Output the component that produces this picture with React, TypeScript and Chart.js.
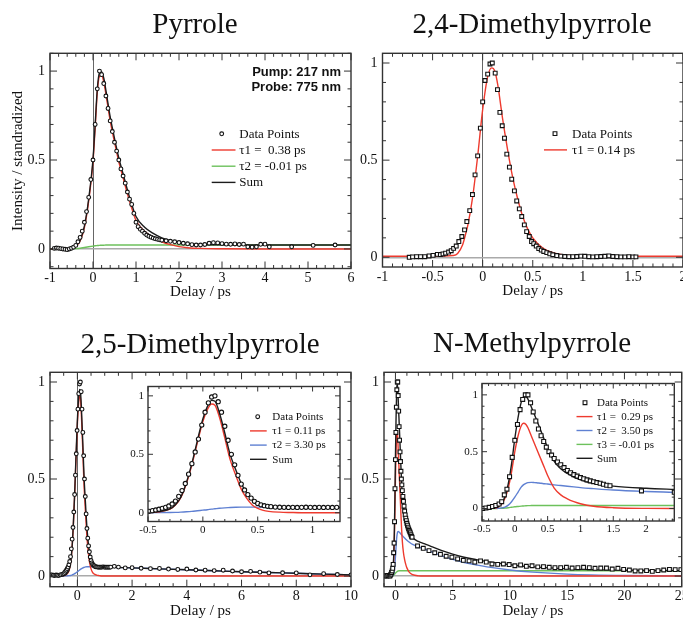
import React, { useEffect, useRef } from "react";
import { Chart, registerables } from "chart.js";

Chart.register(...registerables);

const SERIF = "'Liberation Serif', 'Times New Roman', serif";
const SANS = "'Liberation Sans', Arial, sans-serif";
const RED = "#ee3a2e";
const GREEN = "#6dc15c";
const BLUE = "#5f80d2";
const SUM = "#1c1c1c";
const INK = "#111111";

// ---------------- Pyrrole ----------------
const pyrX = [-0.9,-0.85,-0.8,-0.75,-0.7,-0.65,-0.6,-0.55,-0.5,-0.45,-0.4,-0.35,-0.3,-0.25,-0.2,-0.15,-0.1,-0.05,0,0.05,0.1,0.15,0.2,0.25,0.3,0.35,0.4,0.45,0.5,0.55,0.6,0.65,0.7,0.75,0.8,0.85,0.9,0.95,1,1.05,1.1,1.15,1.2,1.25,1.3,1.35,1.4,1.45,1.5,1.55,1.6,1.7,1.8,1.9,2,2.1,2.2,2.3,2.4,2.5,2.6,2.7,2.8,2.9,3,3.1,3.2,3.3,3.4,3.5,3.6,3.7,3.8,3.9,4,4.1,4.62,5.12,5.63];
const pyrY = [0.003,0.005,0.004,0.002,0,-0.002,-0.004,0,0.004,0.01,0.02,0.04,0.065,0.1,0.15,0.21,0.29,0.39,0.5,0.7,0.9,1.0,0.98,0.93,0.86,0.79,0.72,0.66,0.6,0.55,0.5,0.45,0.41,0.37,0.32,0.28,0.25,0.2,0.15,0.125,0.11,0.1,0.088,0.078,0.071,0.066,0.061,0.057,0.054,0.051,0.049,0.046,0.043,0.04,0.036,0.032,0.029,0.024,0.022,0.022,0.025,0.032,0.035,0.034,0.03,0.027,0.026,0.028,0.025,0.027,0.012,0.01,0.012,0.026,0.027,0.012,0.012,0.02,0.022];
const pyrFitX = [-1,-0.6,-0.5,-0.4,-0.3,-0.2,-0.1,0,0.05,0.1,0.15,0.2,0.25,0.3,0.4,0.5,0.6,0.7,0.8,0.9,1,1.2,1.4,1.6,1.8,2,2.2,2.5,3,4,5,6];
const pyrTau1 = [0,0.001,0.004,0.015,0.045,0.12,0.27,0.49,0.68,0.88,0.97,0.975,0.94,0.87,0.72,0.6,0.49,0.4,0.31,0.23,0.16,0.1,0.065,0.04,0.024,0.013,0.007,0.003,0.001,0,0,0];
const pyrTau2 = [0,0,0.001,0.002,0.004,0.008,0.012,0.016,0.018,0.019,0.02,0.021,0.021,0.022,0.022,0.022,0.022,0.022,0.022,0.022,0.022,0.022,0.022,0.022,0.022,0.022,0.022,0.022,0.022,0.022,0.022,0.022];
const pyrSum = [0,0.001,0.005,0.017,0.049,0.128,0.282,0.506,0.698,0.899,0.99,0.996,0.961,0.892,0.742,0.622,0.512,0.422,0.332,0.252,0.182,0.122,0.087,0.062,0.046,0.035,0.029,0.025,0.023,0.022,0.022,0.022];
const pyrXTicks = [-1,0,1,2,3,4,5,6];
const pyrYTicks = [0,0.5,1];
const pyrLegend = ["Data Points","\u03c41 =  0.38 ps","\u03c42 = -0.01 ps","Sum"];
const pyrNotes = ["Pump: 217 nm","Probe: 775 nm"];

// ---------------- 2,4-Dimethylpyrrole ----------------
const dm24X = [-0.733,-0.7,-0.66,-0.62,-0.578,-0.535,-0.495,-0.452,-0.422,-0.396,-0.37,-0.34,-0.314,-0.29,-0.264,-0.238,-0.208,-0.181,-0.158,-0.129,-0.102,-0.076,-0.05,-0.023,0,0.023,0.05,0.073,0.096,0.125,0.148,0.172,0.195,0.218,0.241,0.267,0.29,0.317,0.34,0.366,0.39,0.416,0.439,0.465,0.488,0.51,0.535,0.56,0.585,0.61,0.64,0.67,0.7,0.74,0.78,0.82,0.86,0.9,0.94,0.98,1.02,1.06,1.1,1.14,1.18,1.22,1.26,1.3,1.34,1.38,1.42,1.46,1.5,1.53];
const dm24Y = [0,0.002,0.003,0.003,0.003,0.007,0.01,0.015,0.014,0.017,0.021,0.027,0.034,0.046,0.058,0.081,0.107,0.141,0.184,0.24,0.323,0.424,0.522,0.665,0.8,0.91,0.943,0.995,1.0,0.948,0.863,0.746,0.677,0.613,0.531,0.464,0.402,0.342,0.29,0.249,0.21,0.167,0.132,0.107,0.081,0.07,0.058,0.045,0.037,0.03,0.024,0.018,0.013,0.009,0.006,0.004,0.003,0.003,0.004,0.006,0.005,0.003,0.002,0.003,0.004,0.005,0.007,0.004,0.003,0.002,0.002,0.003,0.002,0.002];
const dm24FitX = [-1,-0.5,-0.4,-0.3,-0.25,-0.2,-0.17,-0.15,-0.1,-0.05,0,0.05,0.09,0.12,0.15,0.2,0.25,0.3,0.35,0.4,0.45,0.5,0.6,0.7,0.8,0.9,1,1.5,2];
const dm24Tau1 = [0.005,0.005,0.006,0.009,0.02,0.065,0.12,0.16,0.31,0.52,0.76,0.93,0.975,0.96,0.89,0.71,0.55,0.41,0.3,0.21,0.145,0.1,0.048,0.024,0.013,0.008,0.006,0.005,0.005];
const dm24XTicks = [-1,-0.5,0,0.5,1,1.5,2];
const dm24YTicks = [0,0.5,1];
const dm24Legend = ["Data Points","\u03c41 = 0.14 ps"];

// ---------------- 2,5-Dimethylpyrrole ----------------
const dm25X = [-0.98,-0.93,-0.88,-0.83,-0.78,-0.73,-0.68,-0.63,-0.58,-0.53,-0.49,-0.46,-0.43,-0.4,-0.37,-0.34,-0.31,-0.28,-0.25,-0.22,-0.19,-0.16,-0.13,-0.1,-0.07,-0.04,-0.01,0.02,0.05,0.08,0.11,0.14,0.17,0.2,0.23,0.26,0.29,0.32,0.35,0.38,0.41,0.44,0.47,0.5,0.53,0.56,0.59,0.62,0.66,0.7,0.74,0.78,0.82,0.86,0.9,0.94,0.98,1.02,1.06,1.1,1.14,1.18,1.22,1.35,1.5,1.75,2,2.33,2.67,3,3.33,3.67,4,4.33,4.67,5,5.33,5.67,6,6.33,6.67,7,7.5,8,8.5,9,9.5,10];
const dm25Y = [0.005,0.006,0.004,0.003,0.005,0.004,0.003,0.006,0.007,0.01,0.012,0.018,0.024,0.03,0.038,0.046,0.058,0.075,0.1,0.14,0.19,0.25,0.33,0.42,0.52,0.63,0.75,0.86,0.94,0.99,1.0,0.95,0.86,0.74,0.62,0.5,0.41,0.32,0.245,0.195,0.155,0.125,0.098,0.08,0.068,0.06,0.055,0.052,0.048,0.047,0.046,0.045,0.046,0.045,0.046,0.047,0.046,0.045,0.046,0.045,0.046,0.045,0.046,0.05,0.046,0.042,0.043,0.04,0.038,0.039,0.036,0.034,0.036,0.031,0.03,0.028,0.03,0.026,0.022,0.024,0.02,0.016,0.017,0.016,0.006,0.012,0.008,0.006];
const dm25FitX = [-1,-0.5,-0.4,-0.3,-0.25,-0.2,-0.15,-0.1,-0.05,0,0.04,0.08,0.11,0.15,0.2,0.23,0.25,0.3,0.35,0.4,0.45,0.5,0.55,0.6,0.7,0.8,0.9,1,1.25,1.5,2,3,4,5,6,7,8,9,10];
const dm25Tau1 = [0,0.002,0.008,0.03,0.065,0.13,0.25,0.41,0.6,0.78,0.88,0.93,0.92,0.82,0.64,0.52,0.45,0.32,0.202,0.122,0.067,0.037,0.02,0.012,0.005,0.002,0,0,0,0,0,0,0,0,0,0,0,0,0];
const dm25Tau2 = [0,0,0.001,0.002,0.003,0.005,0.008,0.012,0.017,0.022,0.026,0.031,0.034,0.038,0.042,0.044,0.045,0.047,0.048,0.048,0.048,0.048,0.048,0.048,0.047,0.047,0.046,0.046,0.045,0.044,0.042,0.037,0.032,0.027,0.022,0.018,0.014,0.01,0.006];
const dm25Sum = [0,0.002,0.009,0.032,0.068,0.135,0.258,0.422,0.617,0.802,0.906,0.961,0.954,0.858,0.682,0.564,0.495,0.367,0.25,0.17,0.115,0.085,0.068,0.06,0.052,0.049,0.046,0.046,0.045,0.044,0.042,0.037,0.032,0.027,0.022,0.018,0.014,0.01,0.006];
const dm25XTicks = [0,2,4,6,8,10];
const dm25InsetXTicks = [-0.5,0,0.5,1];
const dm25YTicks = [0,0.5,1];
const dm25Legend = ["Data Points","\u03c41 = 0.11 ps","\u03c42 = 3.30 ps","Sum"];

// ---------------- N-Methylpyrrole ----------------
const nmX = [-0.95,-0.85,-0.75,-0.65,-0.55,-0.49,-0.44,-0.39,-0.34,-0.29,-0.24,-0.2,-0.16,-0.12,-0.08,-0.04,0,0.04,0.08,0.12,0.16,0.2,0.24,0.28,0.32,0.36,0.4,0.44,0.48,0.52,0.56,0.6,0.65,0.7,0.75,0.8,0.85,0.9,0.95,1,1.05,1.1,1.15,1.2,1.25,1.3,1.35,1.4,1.45,1.93,2.43,2.93,3.43,3.93,4.43,4.93,5.43,5.93,6.43,6.93,7.43,7.93,8.43,8.93,9.43,9.93,10.43,10.93,11.43,11.93,12.43,12.93,13.43,13.93,14.43,14.93,15.43,15.93,16.43,16.93,17.43,17.93,18.43,18.93,19.43,19.93,20.43,20.93,21.43,21.93,22.43,22.93,23.43,23.93,24.43,24.93];
const nmY = [0,0.002,0,0.003,0.001,0,0.005,0.01,0.018,0.026,0.04,0.06,0.12,0.17,0.28,0.45,0.6,0.74,0.87,0.96,1.0,1.0,0.93,0.85,0.77,0.7,0.64,0.59,0.54,0.5,0.47,0.44,0.41,0.385,0.36,0.335,0.315,0.298,0.285,0.272,0.262,0.252,0.243,0.236,0.228,0.222,0.213,0.205,0.2,0.155,0.143,0.131,0.12,0.112,0.102,0.097,0.088,0.081,0.078,0.072,0.078,0.072,0.062,0.06,0.062,0.059,0.053,0.057,0.05,0.053,0.047,0.048,0.045,0.043,0.043,0.045,0.041,0.043,0.045,0.043,0.04,0.041,0.041,0.036,0.04,0.034,0.031,0.026,0.026,0.028,0.024,0.028,0.031,0.034,0.033,0.033];
const nmFitX = [-1,-0.3,-0.25,-0.2,-0.15,-0.1,-0.05,0,0.05,0.1,0.13,0.17,0.2,0.25,0.3,0.35,0.4,0.45,0.5,0.6,0.7,0.8,0.9,1,1.2,1.5,2,2.5,3,4,5,6,7,8,10,12,15,20,25];
const nmTau1 = [0,0.005,0.015,0.04,0.09,0.18,0.32,0.5,0.64,0.73,0.75,0.74,0.71,0.64,0.57,0.5,0.43,0.36,0.29,0.18,0.12,0.085,0.06,0.042,0.02,0.007,0.001,0,0,0,0,0,0,0,0,0,0,0,0];
const nmTau2 = [0,0.001,0.002,0.005,0.012,0.03,0.06,0.1,0.145,0.19,0.208,0.222,0.228,0.23,0.228,0.225,0.222,0.218,0.215,0.208,0.202,0.196,0.19,0.184,0.175,0.163,0.15,0.14,0.128,0.105,0.086,0.07,0.058,0.047,0.031,0.02,0.01,0.003,0.001];
const nmTau3 = [0,0,0.001,0.002,0.004,0.007,0.011,0.015,0.018,0.021,0.022,0.024,0.025,0.026,0.027,0.027,0.027,0.027,0.027,0.027,0.027,0.027,0.027,0.027,0.027,0.027,0.027,0.027,0.027,0.027,0.027,0.027,0.027,0.027,0.027,0.027,0.027,0.027,0.027];
const nmSum = [0,0.006,0.018,0.047,0.106,0.217,0.391,0.615,0.803,0.941,0.98,0.986,0.963,0.896,0.825,0.752,0.679,0.605,0.532,0.415,0.349,0.308,0.277,0.253,0.222,0.197,0.178,0.167,0.155,0.132,0.113,0.097,0.085,0.074,0.058,0.047,0.037,0.03,0.028];
const nmXTicks = [0,5,10,15,20,25];
const nmInsetXTicks = [-0.5,0,0.5,1,1.5,2];
const nmYTicks = [0,0.5,1];
const nmLegend = ["Data Points","\u03c41 =  0.29 ps","\u03c42 =  3.50 ps","\u03c43 = -0.01 ps","Sum"];

// ---------------- helpers ----------------
const pts = (xs: number[], ys: number[]) => xs.map((x, i) => ({ x, y: ys[i] }));

function pointSet(xs: number[], ys: number[], style: string, r: number) {
  return {
    data: pts(xs, ys), showLine: false, pointStyle: style, pointRadius: r,
    pointBorderWidth: 1.1, pointBorderColor: INK, pointBackgroundColor: "#ffffff",
    borderColor: INK, backgroundColor: "#ffffff", order: 0,
  };
}
function curveSet(xs: number[], ys: number[], color: string, order: number) {
  return {
    data: pts(xs, ys), borderColor: color, backgroundColor: color, borderWidth: 1.4,
    pointRadius: 0, cubicInterpolationMode: "monotone", fill: false, order,
  };
}

type Item = { kind: "circle" | "rect" | "line"; color: string; label: string };
type Cfg = {
  box: { x: number; y: number; w: number; h: number };
  plot: { l: number; t: number; r: number; b: number };
  xr: [number, number]; yr: [number, number];
  xTicks: number[]; yTicks: number[]; xMinor: number; yMinor: number;
  inset: boolean; zeroX: boolean; zeroY: boolean;
  yTitle?: string;
  title?: { text: string; x: number; y: number };
  notes?: string[];
  legend?: { items: Item[]; markX: number; l0: number; l1: number; textX: number; dy: number; gap: number; size: number };
  datasets: any[];
};

function framePlugin(c: Cfg) {
  return {
    id: "frame",
    afterDatasetsDraw(chart: any) {
      const { ctx, chartArea: ca } = chart;
      const xs = chart.scales.x, ys = chart.scales.y;
      const majLen = c.inset ? 5 : 7, minLen = c.inset ? 2.5 : 3.5;
      const marks = (min: number, max: number, step: number, majors: number[]) => {
        const out: [number, boolean][] = [];
        const n0 = Math.ceil(min / step - 1e-6), n1 = Math.floor(max / step + 1e-6);
        for (let n = n0; n <= n1; n++) {
          const v = n * step;
          out.push([v, majors.some((m) => Math.abs(m - v) < step * 1e-3)]);
        }
        return out;
      };
      ctx.save();
      ctx.strokeStyle = "#333";
      ctx.lineWidth = 1;
      ctx.beginPath();
      for (const [v, major] of marks(xs.min, xs.max, c.xMinor, c.xTicks)) {
        const p = xs.getPixelForValue(v), len = major ? majLen : minLen;
        ctx.moveTo(p, ca.bottom); ctx.lineTo(p, ca.bottom - len);
        ctx.moveTo(p, ca.top); ctx.lineTo(p, ca.top + len);
      }
      for (const [v, major] of marks(ys.min, ys.max, c.yMinor, c.yTicks)) {
        const p = ys.getPixelForValue(v), len = major ? majLen : minLen;
        ctx.moveTo(ca.left, p); ctx.lineTo(ca.left + len, p);
        ctx.moveTo(ca.right, p); ctx.lineTo(ca.right - len, p);
      }
      ctx.stroke();
      ctx.lineWidth = 1.4;
      ctx.strokeRect(ca.left, ca.top, ca.right - ca.left, ca.bottom - ca.top);
      ctx.restore();
    },
  };
}

function notesPlugin(c: Cfg) {
  return {
    id: "notes",
    beforeDraw(chart: any) {
      if (!c.inset) return;
      const { ctx, chartArea: ca } = chart;
      ctx.save();
      ctx.fillStyle = "#ffffff";
      ctx.fillRect(ca.left, ca.top, ca.right - ca.left, ca.bottom - ca.top);
      ctx.restore();
    },
    afterDraw(chart: any) {
      const { ctx, chartArea: ca } = chart;
      ctx.save();
      ctx.fillStyle = INK;
      if (c.title) {
        ctx.font = `29px ${SERIF}`;
        ctx.textAlign = "center";
        ctx.textBaseline = "alphabetic";
        ctx.fillText(c.title.text, c.title.x, c.title.y);
      }
      if (c.notes) {
        ctx.font = `bold 13px ${SANS}`;
        ctx.textAlign = "right";
        ctx.textBaseline = "alphabetic";
        c.notes.forEach((t, i) => ctx.fillText(t, ca.right - 10, ca.top + 23 + i * 14.5));
      }
      const L = c.legend;
      if (L) {
        ctx.font = `${L.size}px ${SERIF}`;
        ctx.textAlign = "left";
        ctx.textBaseline = "middle";
        L.items.forEach((it, i) => {
          const cy = ca.top + L.dy + i * L.gap;
          if (it.kind === "line") {
            ctx.strokeStyle = it.color;
            ctx.lineWidth = 1.4;
            ctx.beginPath();
            ctx.moveTo(ca.left + L.l0, cy);
            ctx.lineTo(ca.left + L.l1, cy);
            ctx.stroke();
          } else {
            ctx.strokeStyle = INK;
            ctx.fillStyle = "#fff";
            ctx.lineWidth = 1.1;
            ctx.beginPath();
            const mx = ca.left + L.markX;
            if (it.kind === "circle") ctx.arc(mx, cy, 1.9, 0, Math.PI * 2);
            else ctx.rect(mx - 1.9, cy - 1.9, 3.8, 3.8);
            ctx.fill();
            ctx.stroke();
          }
          ctx.fillStyle = INK;
          ctx.fillText(it.label, ca.left + L.textX, cy + 0.5);
        });
      }
      ctx.restore();
    },
  };
}

function buildConfig(c: Cfg) {
  const yW = c.plot.l - c.box.x;
  const xH = c.inset ? c.box.y + c.box.h - c.plot.b : 33;
  const tickSize = c.inset ? 11 : 14;
  const gridColor = (on: boolean, col: string) => (ctx: any) =>
    on && ctx.tick && Math.abs(ctx.tick.value) < 1e-9 ? col : "rgba(0,0,0,0)";
  return {
    type: "line",
    data: { datasets: c.datasets },
    options: {
      responsive: false, animation: false, devicePixelRatio: 1, events: [],
      layout: {
        padding: {
          left: 0,
          top: c.plot.t - c.box.y,
          right: c.box.x + c.box.w - c.plot.r,
          bottom: c.box.y + c.box.h - c.plot.b - xH,
        },
      },
      plugins: { legend: { display: false }, tooltip: { enabled: false }, title: { display: false } },
      scales: {
        x: {
          type: "linear", position: "bottom", min: c.xr[0], max: c.xr[1],
          afterBuildTicks: (s: any) => { s.ticks = c.xTicks.map((v) => ({ value: v })); },
          afterFit: (s: any) => { s.height = xH; },
          ticks: { autoSkip: false, maxRotation: 0, padding: c.inset ? 2 : 1.5, color: INK,
            font: { family: SERIF, size: tickSize }, callback: (v: any) => String(v) },
          grid: { drawTicks: false, lineWidth: 1, color: gridColor(c.zeroX, "#666") },
          border: { display: false },
          title: c.inset ? { display: false } : { display: true, text: "Delay / ps", color: INK,
            font: { family: SERIF, size: 15 }, padding: { top: 0, bottom: 0 } },
        },
        y: {
          type: "linear", position: "left", min: c.yr[0], max: c.yr[1],
          afterBuildTicks: (s: any) => { s.ticks = c.yTicks.map((v) => ({ value: v })); },
          afterFit: (s: any) => { s.width = yW; },
          ticks: { autoSkip: false, padding: c.inset ? 4 : 5, color: INK,
            font: { family: SERIF, size: tickSize }, callback: (v: any) => String(v) },
          grid: { drawTicks: false, lineWidth: 1.4, color: gridColor(c.zeroY, "#aaa") },
          border: { display: false },
          title: c.yTitle ? { display: true, text: c.yTitle, color: INK,
            font: { family: SERIF, size: 15 }, padding: { top: 9, bottom: 0 } } : { display: false },
        },
      },
    },
    plugins: [framePlugin(c), notesPlugin(c)],
  };
}

// ---------------- panel configs ----------------
const mainLegendGeom = { markX: 171.7, l0: 161.7, l1: 185.5, textX: 189.3, dy: 80.5, gap: 16.2, size: 13 };

const panels: Cfg[] = [
  {
    box: { x: 0, y: 0, w: 365, h: 312 }, plot: { l: 50, t: 53.3, r: 351, b: 268.5 },
    xr: [-1, 6], yr: [-0.11, 1.1], xTicks: pyrXTicks, yTicks: pyrYTicks, xMinor: 0.2, yMinor: 0.1,
    inset: false, zeroX: true, zeroY: true, yTitle: "Intensity / standradized",
    title: { text: "Pyrrole", x: 195, y: 33 }, notes: pyrNotes,
    legend: { ...mainLegendGeom, items: [
      { kind: "circle", color: INK, label: pyrLegend[0] },
      { kind: "line", color: RED, label: pyrLegend[1] },
      { kind: "line", color: GREEN, label: pyrLegend[2] },
      { kind: "line", color: SUM, label: pyrLegend[3] },
    ] },
    datasets: [
      pointSet(pyrX, pyrY, "circle", 1.9),
      curveSet(pyrFitX, pyrSum, SUM, 1),
      curveSet(pyrFitX, pyrTau1, RED, 2),
      curveSet(pyrFitX, pyrTau2, GREEN, 3),
    ],
  },
  {
    box: { x: 340, y: 0, w: 360, h: 312 }, plot: { l: 382.5, t: 53.3, r: 683, b: 267 },
    xr: [-1, 2], yr: [-0.05, 1.05], xTicks: dm24XTicks, yTicks: dm24YTicks, xMinor: 0.1, yMinor: 0.1,
    inset: false, zeroX: true, zeroY: true,
    title: { text: "2,4-Dimethylpyrrole", x: 192, y: 33 },
    legend: { markX: 172.5, l0: 161.5, l1: 184.5, textX: 189.5, dy: 80.3, gap: 16.3, size: 13, items: [
      { kind: "rect", color: INK, label: dm24Legend[0] },
      { kind: "line", color: RED, label: dm24Legend[1] },
    ] },
    datasets: [
      pointSet(dm24X, dm24Y, "rect", 2.7),
      curveSet(dm24FitX, dm24Tau1, RED, 1),
    ],
  },
  {
    box: { x: 0, y: 312, w: 365, h: 313 }, plot: { l: 50, t: 372.3, r: 351, b: 586.7 },
    xr: [-1, 10], yr: [-0.055, 1.05], xTicks: dm25XTicks, yTicks: dm25YTicks, xMinor: 0.5, yMinor: 0.1,
    inset: false, zeroX: true, zeroY: true,
    title: { text: "2,5-Dimethylpyrrole", x: 200, y: 41 },
    datasets: [
      pointSet(dm25X, dm25Y, "circle", 1.9),
      curveSet(dm25FitX, dm25Sum, SUM, 1),
      curveSet(dm25FitX, dm25Tau1, RED, 2),
      curveSet(dm25FitX, dm25Tau2, BLUE, 3),
    ],
  },
  {
    box: { x: 340, y: 312, w: 360, h: 313 }, plot: { l: 384, t: 372.3, r: 681.7, b: 586.7 },
    xr: [-1, 25], yr: [-0.055, 1.05], xTicks: nmXTicks, yTicks: nmYTicks, xMinor: 1, yMinor: 0.1,
    inset: false, zeroX: false, zeroY: true,
    title: { text: "N-Methylpyrrole", x: 192, y: 40 },
    datasets: [
      pointSet(nmX, nmY, "rect", 2.7),
      curveSet(nmFitX, nmSum, SUM, 1),
      curveSet(nmFitX, nmTau1, RED, 2),
      curveSet(nmFitX, nmTau2, BLUE, 3),
      curveSet(nmFitX, nmTau3, GREEN, 4),
    ],
  },
  {
    box: { x: 116, y: 372, w: 234, h: 168 }, plot: { l: 148, t: 386.5, r: 340, b: 521.5 },
    xr: [-0.5, 1.25], yr: [-0.075, 1.08], xTicks: dm25InsetXTicks, yTicks: dm25YTicks, xMinor: 0.1, yMinor: 0.1,
    inset: true, zeroX: false, zeroY: false,
    legend: { markX: 109.7, l0: 102, l1: 118.7, textX: 124.3, dy: 30.2, gap: 14.2, size: 11, items: [
      { kind: "circle", color: INK, label: dm25Legend[0] },
      { kind: "line", color: RED, label: dm25Legend[1] },
      { kind: "line", color: BLUE, label: dm25Legend[2] },
      { kind: "line", color: SUM, label: dm25Legend[3] },
    ] },
    datasets: [
      pointSet(dm25X, dm25Y, "circle", 2.1),
      curveSet(dm25FitX, dm25Sum, SUM, 1),
      curveSet(dm25FitX, dm25Tau1, RED, 2),
      curveSet(dm25FitX, dm25Tau2, BLUE, 3),
    ],
  },
  {
    box: { x: 450, y: 370, w: 234, h: 170 }, plot: { l: 482, t: 383.5, r: 674.3, b: 521 },
    xr: [-0.5, 2.43], yr: [-0.11, 1.1], xTicks: nmInsetXTicks, yTicks: nmYTicks, xMinor: 0.1, yMinor: 0.1,
    inset: true, zeroX: false, zeroY: false,
    legend: { markX: 103, l0: 94.5, l1: 110.5, textX: 115, dy: 19.2, gap: 13.9, size: 11, items: [
      { kind: "rect", color: INK, label: nmLegend[0] },
      { kind: "line", color: RED, label: nmLegend[1] },
      { kind: "line", color: BLUE, label: nmLegend[2] },
      { kind: "line", color: GREEN, label: nmLegend[3] },
      { kind: "line", color: SUM, label: nmLegend[4] },
    ] },
    datasets: [
      pointSet(nmX, nmY, "rect", 2.8),
      curveSet(nmFitX, nmSum, SUM, 1),
      curveSet(nmFitX, nmTau1, RED, 2),
      curveSet(nmFitX, nmTau2, BLUE, 3),
      curveSet(nmFitX, nmTau3, GREEN, 4),
    ],
  },
];

function ChartBox({ cfg }: { cfg: Cfg }) {
  const ref = useRef<HTMLCanvasElement>(null);
  useEffect(() => {
    if (!ref.current) return;
    const chart = new Chart(ref.current, buildConfig(cfg) as any);
    return () => chart.destroy();
  }, [cfg]);
  return (
    <canvas
      ref={ref}
      width={cfg.box.w}
      height={cfg.box.h}
      style={{ position: "absolute", left: cfg.box.x, top: cfg.box.y, width: cfg.box.w, height: cfg.box.h }}
    />
  );
}

export default function App() {
  return (
    <div style={{ position: "fixed", left: 0, top: 0, width: 683, height: 625, overflow: "hidden", background: "#ffffff" }}>
      {panels.map((p, i) => (
        <ChartBox key={i} cfg={p} />
      ))}
    </div>
  );
}
